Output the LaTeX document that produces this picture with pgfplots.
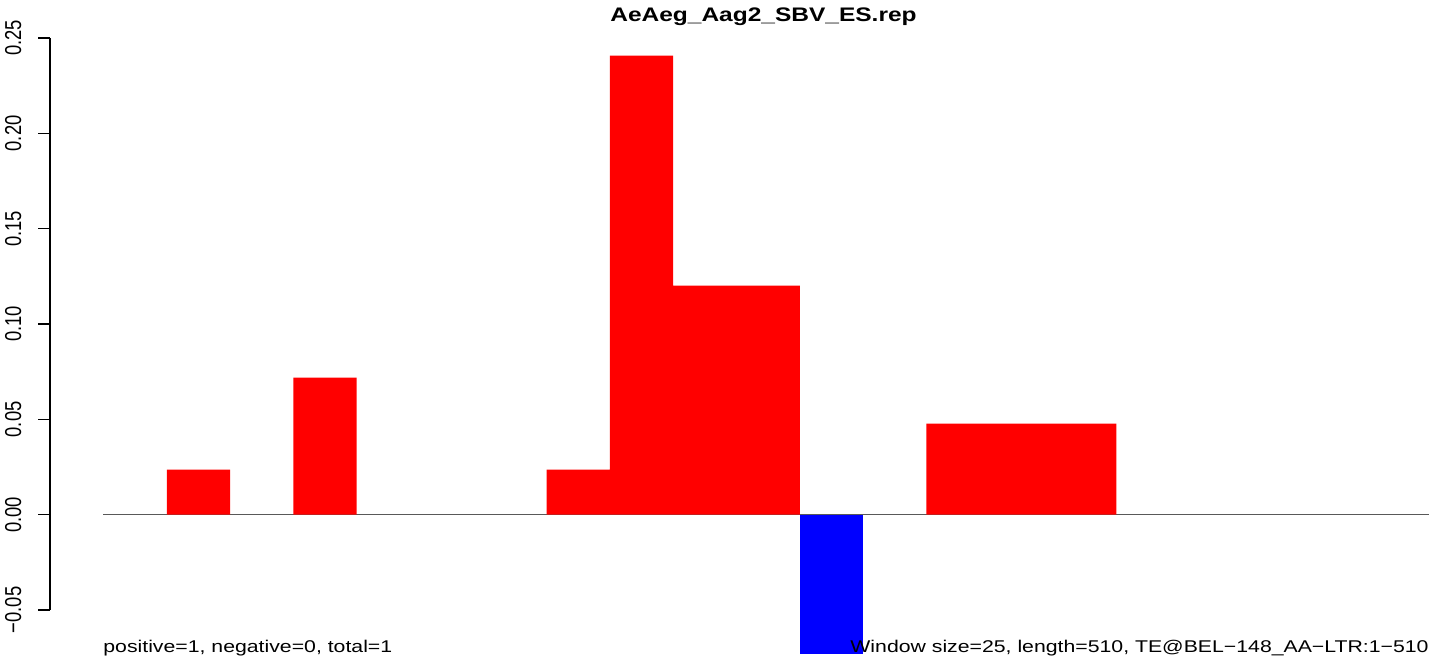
\documentclass[border=0pt]{standalone}
\usepackage{pgfplots}
\pgfplotsset{compat=1.18}
\usepackage{graphicx}
\usepackage{fontspec}
\setmainfont{Liberation Sans}
\begin{document}
\begin{tikzpicture}
\useasboundingbox (0,0) rectangle (714.5pt,-330pt);
\begin{axis}[
  at={(25pt,-305pt)}, anchor=south west,
  scale only axis, width=689.5pt, height=286pt,
  xmin=-0.845, xmax=20.94, ymin=-0.05, ymax=0.25,
  axis x line=none, axis y line*=left,
  clip=false,
  xtick=\empty,
  ytick={-0.05,0,0.05,0.1,0.15,0.2,0.25},
  yticklabels={{\scalebox{1}[1.25]{−0.05}},{\scalebox{1}[1.25]{0.00}},{\scalebox{1}[1.25]{0.05}},{\scalebox{1}[1.25]{0.10}},{\scalebox{1}[1.25]{0.15}},{\scalebox{1}[1.25]{0.20}},{\scalebox{1}[1.25]{0.25}}},
  yticklabel style={xshift=-8.5pt, rotate=90, anchor=base, font=\fontsize{9.2}{11}\selectfont, inner sep=0pt},
  tick align=outside, major tick length=6pt,
  axis line style={line width=0.7pt},
  every tick/.style={black, line width=0.7pt},
]
\draw[black!65, line width=0.5pt] (axis cs:0,0) -- (axis cs:20.94,0);
\addplot[ybar, bar width=1, bar shift=0, fill=red, draw=none] coordinates {
  (1.5,0.0236) (3.5,0.0719) (7.5,0.0236) (8.5,0.2407) (9.5,0.1201)
  (10.5,0.1201) (13.5,0.0477) (14.5,0.0477) (15.5,0.0477)
};
\addplot[ybar, bar width=1, bar shift=0, fill=blue, draw=none] coordinates {
  (11.5,-0.0729)
};
\end{axis}
\node[anchor=base, inner sep=0pt] at (381.75pt,-10.5pt) {\scalebox{1.25}[1]{\fontsize{9.8}{12}\selectfont\bfseries AeAeg\_Aag2\_SBV\_ES.rep}};
\node[anchor=base west, inner sep=0pt] at (51.5pt,-326pt) {\scalebox{1.25}[1]{\fontsize{8.5}{10}\selectfont positive=1, negative=0, total=1}};
\node[anchor=base east, inner sep=0pt] at (714.5pt,-326pt) {\scalebox{1.25}[1]{\fontsize{8.5}{10}\selectfont Window size=25, length=510, TE@BEL−148\_AA−LTR:1−510}};
\end{tikzpicture}
\end{document}
